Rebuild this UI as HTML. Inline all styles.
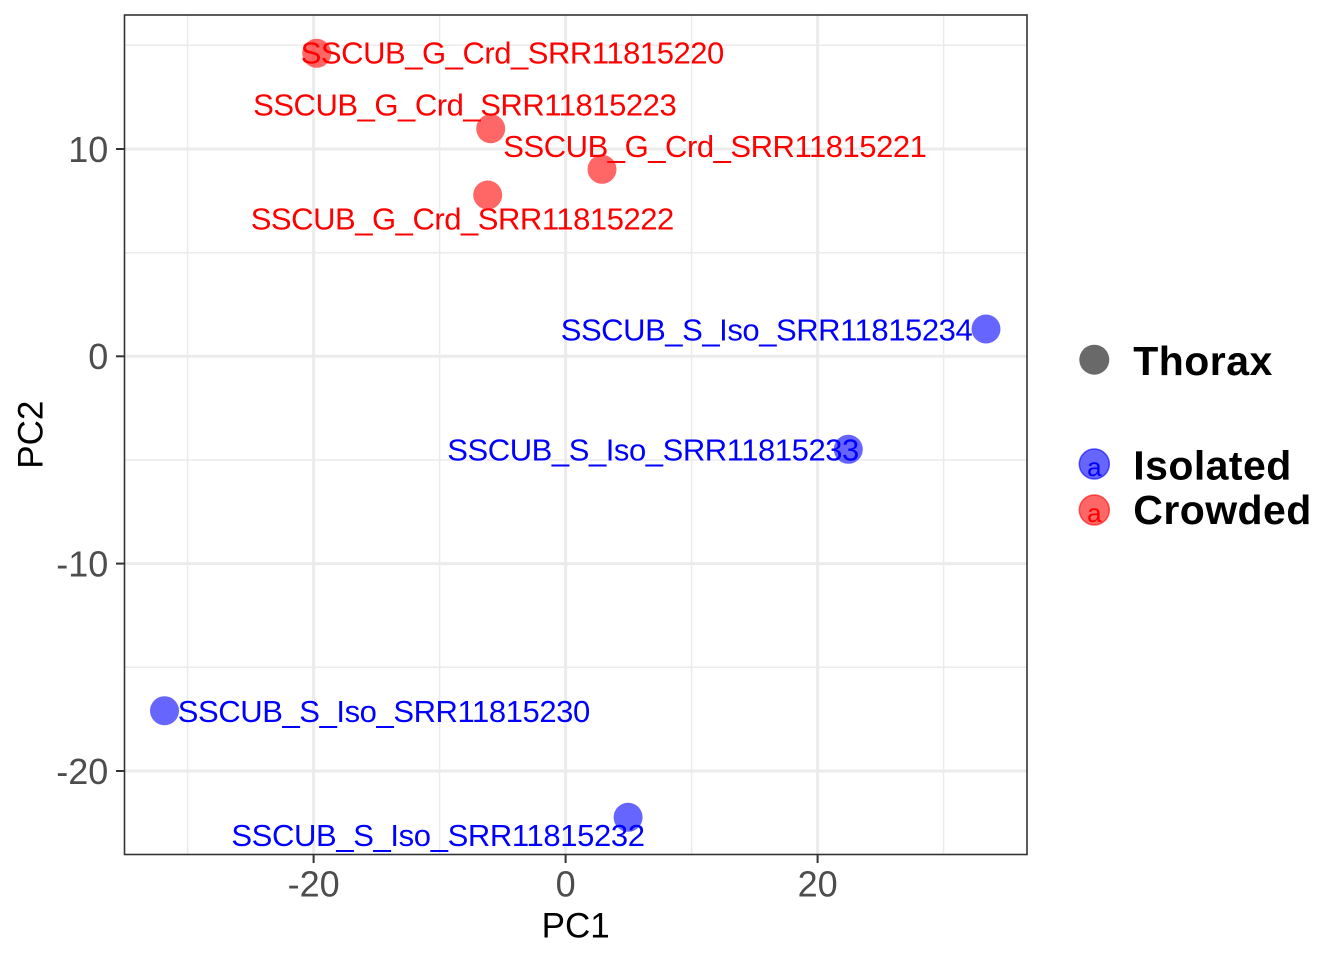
<!DOCTYPE html>
<html>
<head>
<meta charset="utf-8">
<style>
  html, body { margin: 0; padding: 0; background: #ffffff; }
  svg { display: block; }
  text { font-family: "Liberation Sans", Arial, sans-serif; }
</style>
</head>
<body>
<svg width="1344" height="960" viewBox="0 0 1344 960" xmlns="http://www.w3.org/2000/svg">
  <rect x="0" y="0" width="1344" height="960" fill="#ffffff"/>

  <!-- panel background -->
  <rect x="124.5" y="15" width="902.5" height="839.5" fill="#ffffff"/>

  <!-- minor grid -->
  <g stroke="#EBEBEB" stroke-width="1.5">
    <line x1="187.6" y1="15" x2="187.6" y2="854.5"/>
    <line x1="439.6" y1="15" x2="439.6" y2="854.5"/>
    <line x1="691.6" y1="15" x2="691.6" y2="854.5"/>
    <line x1="943.6" y1="15" x2="943.6" y2="854.5"/>
    <line x1="124.5" y1="45.3" x2="1027" y2="45.3"/>
    <line x1="124.5" y1="252.7" x2="1027" y2="252.7"/>
    <line x1="124.5" y1="460" x2="1027" y2="460"/>
    <line x1="124.5" y1="667.3" x2="1027" y2="667.3"/>
  </g>
  <!-- major grid -->
  <g stroke="#EBEBEB" stroke-width="3">
    <line x1="313.6" y1="15" x2="313.6" y2="854.5"/>
    <line x1="565.6" y1="15" x2="565.6" y2="854.5"/>
    <line x1="817.6" y1="15" x2="817.6" y2="854.5"/>
    <line x1="124.5" y1="149" x2="1027" y2="149"/>
    <line x1="124.5" y1="356.3" x2="1027" y2="356.3"/>
    <line x1="124.5" y1="563.6" x2="1027" y2="563.6"/>
    <line x1="124.5" y1="771" x2="1027" y2="771"/>
  </g>

  <!-- labels -->
  <g font-size="31" text-anchor="middle">
    <text x="512.5" y="63.6" fill="#FF0000" textLength="423.6">SSCUB_G_Crd_SRR11815220</text>
    <text x="464.9" y="115.3" fill="#FF0000" textLength="423.6">SSCUB_G_Crd_SRR11815223</text>
    <text x="715.1" y="157" fill="#FF0000" textLength="423.6">SSCUB_G_Crd_SRR11815221</text>
    <text x="462.5" y="229.3" fill="#FF0000" textLength="423.6">SSCUB_G_Crd_SRR11815222</text>
    <text x="766.7" y="340.3" fill="#0000FF" textLength="412">SSCUB_S_Iso_SRR11815234</text>
    <text x="653.3" y="460.3" fill="#0000FF" textLength="412">SSCUB_S_Iso_SRR11815233</text>
    <text x="384" y="722" fill="#0000FF" textLength="412.5">SSCUB_S_Iso_SRR11815230</text>
    <text x="438.2" y="846" fill="#0000FF" textLength="413.7">SSCUB_S_Iso_SRR11815232</text>
  </g>

  <!-- points -->
  <g fill-opacity="0.6">
    <circle cx="316.7" cy="53.3" r="14.5" fill="#FF0000"/>
    <circle cx="490.7" cy="128.7" r="14.5" fill="#FF0000"/>
    <circle cx="602" cy="169.3" r="14.5" fill="#FF0000"/>
    <circle cx="487.7" cy="195" r="14.5" fill="#FF0000"/>
    <circle cx="986" cy="329" r="14.5" fill="#0000FF"/>
    <circle cx="848.3" cy="449.3" r="14.5" fill="#0000FF"/>
    <circle cx="164.5" cy="710.7" r="14.5" fill="#0000FF"/>
    <circle cx="628.1" cy="817.3" r="14.5" fill="#0000FF"/>
  </g>

  <!-- panel border -->
  <rect x="124.5" y="15" width="902.5" height="839.5" fill="none" stroke="#333333" stroke-width="1.6"/>

  <!-- ticks -->
  <g stroke="#333333" stroke-width="2">
    <line x1="313.6" y1="854.5" x2="313.6" y2="863"/>
    <line x1="565.6" y1="854.5" x2="565.6" y2="863"/>
    <line x1="817.6" y1="854.5" x2="817.6" y2="863"/>
    <line x1="116" y1="149" x2="124.5" y2="149"/>
    <line x1="116" y1="356.3" x2="124.5" y2="356.3"/>
    <line x1="116" y1="563.6" x2="124.5" y2="563.6"/>
    <line x1="116" y1="771" x2="124.5" y2="771"/>
  </g>

  <!-- tick labels -->
  <g font-size="36" fill="#4D4D4D">
    <text x="313.6" y="896.3" text-anchor="middle">-20</text>
    <text x="565.6" y="896.3" text-anchor="middle">0</text>
    <text x="817.6" y="896.3" text-anchor="middle">20</text>
    <text x="108.3" y="161.8" text-anchor="end">10</text>
    <text x="108.3" y="369.1" text-anchor="end">0</text>
    <text x="108.3" y="576.4" text-anchor="end">-10</text>
    <text x="108.3" y="783.8" text-anchor="end">-20</text>
  </g>

  <!-- axis titles -->
  <text x="575.7" y="937.3" font-size="35" fill="#000000" text-anchor="middle">PC1</text>
  <text x="0" y="0" font-size="35" fill="#000000" text-anchor="middle" transform="translate(42.5,434.7) rotate(-90)">PC2</text>

  <!-- legend -->
  <circle cx="1094.3" cy="359.7" r="15" fill="#696969"/>
  <text x="1133.3" y="375" font-size="41" font-weight="bold" fill="#000000" textLength="139">Thorax</text>

  <circle cx="1094.3" cy="464" r="15" fill="#0000FF" fill-opacity="0.6" stroke="#0000FF" stroke-opacity="0.6" stroke-width="1.5"/>
  <text x="1094.3" y="476" font-size="26" fill="#0000FF" text-anchor="middle">a</text>
  <text x="1133.3" y="479.3" font-size="41" font-weight="bold" fill="#000000" textLength="158">Isolated</text>

  <circle cx="1094.3" cy="510" r="15" fill="#FF0000" fill-opacity="0.6" stroke="#FF0000" stroke-opacity="0.6" stroke-width="1.5"/>
  <text x="1094.3" y="522" font-size="26" fill="#FF0000" text-anchor="middle">a</text>
  <text x="1133.3" y="524" font-size="41" font-weight="bold" fill="#000000" textLength="178">Crowded</text>
</svg>
</body>
</html>
